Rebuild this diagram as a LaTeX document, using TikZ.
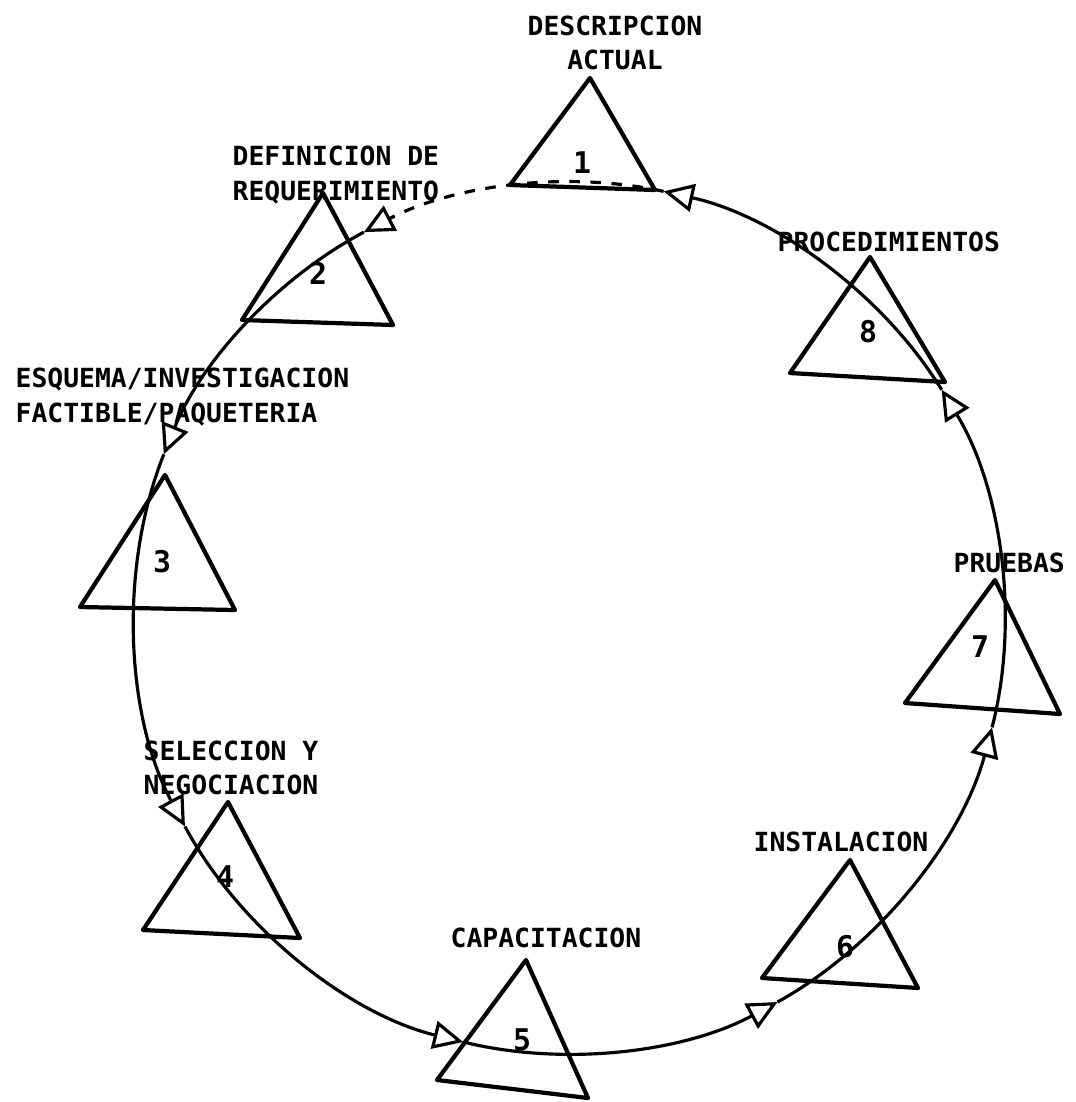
\documentclass[tikz,border=0pt]{standalone}
\usepackage{fontspec}
\setmonofont{DejaVu Sans Mono}
\usetikzlibrary{arrows.meta, calc}

\begin{document}
\begin{tikzpicture}[x=0.01cm, y=-0.01cm,
  tri/.style={line width=1.2pt, line join=round},
  ring/.style={line width=0.9pt, -{Triangle[open, length=3mm, width=2.8mm]}},
  num/.style={font=\ttfamily\bfseries\fontsize{8.5}{10}\selectfont},
  lbl/.style={font=\ttfamily\bfseries\fontsize{7.5}{9.8}\selectfont, inner sep=0pt, align=left}]
\useasboundingbox (0,0) rectangle (1076,1102);
\coordinate (c) at (569,618);
% arrow tips on the ring (angles counted anticlockwise)
\foreach \n/\a in {1/77.5, 2/118, 3/158, 4/208.5, 5/256, 6/298.5, 7/345.5, 8/31.5}
  \coordinate (p\n) at ($(c)+(-\a:437)$);

% the eight steps
\draw[tri] (590,78) -- (510,185) -- (655,190) -- cycle;
\draw[tri] (323,193) -- (242,320) -- (393,325) -- cycle;
\draw[tri] (165,475) -- (80,607) -- (235,610) -- cycle;
\draw[tri] (228,802) -- (143,930) -- (300,938) -- cycle;
\draw[tri] (526,960) -- (437,1080) -- (588,1098) -- cycle;
\draw[tri] (850,860) -- (762,978) -- (918,988) -- cycle;
\draw[tri] (995,580) -- (905,703) -- (1060,714) -- cycle;
\draw[tri] (870,257) -- (790,373) -- (945,382) -- cycle;
\node[num] (n1) at (582,163) {1};
\node[num] (n2) at (318,273) {2};
\node[num] (n3) at (162,562) {3};
\node[num] (n4) at (225,877) {4};
\node[num] (n5) at (522,1040) {5};
\node[num] (n6) at (845,947) {6};
\node[num] (n7) at (980,647) {7};
\node[num] (n8) at (868,332) {8};

% the cycle
\draw[ring] (p8) to[bend right=23, looseness=0.85] (p1);
\draw[ring, dashed] (p1) to[bend right=20, looseness=0.85] (p2);
\draw[ring] (p2) to[bend right=20, looseness=0.85] (p3);
\draw[ring] (p3) to[bend right=25, looseness=0.85] (p4);
\draw[ring] (p4) to[bend right=24, looseness=0.85] (p5);
\draw[ring] (p5) to[bend right=21, looseness=0.85] (p6);
\draw[ring] (p6) to[bend right=23, looseness=0.85] (p7);
\draw[ring] (p7) to[bend right=23, looseness=0.85] (p8);

% labels
\node[lbl, align=center] (l1) at (615,43) {DESCRIPCION\\ACTUAL};
\node[lbl, anchor=west] (l2) at (232,175) {DEFINICION DE\\REQUERIMIENTO};
\node[lbl, anchor=west] (l3) at (15,397) {ESQUEMA/INVESTIGACION\\FACTIBLE/PAQUETERIA};
\node[lbl, anchor=west] (l4) at (143,768) {SELECCION Y\\NEGOCIACION};
\node[lbl, anchor=west] (l5) at (450,938) {CAPACITACION};
\node[lbl, anchor=west] (l6) at (753,842) {INSTALACION};
\node[lbl, anchor=west] (l7) at (953,563) {PRUEBAS};
\node[lbl, anchor=west] (l8) at (777,242) {PROCEDIMIENTOS};
\end{tikzpicture}
\end{document}
